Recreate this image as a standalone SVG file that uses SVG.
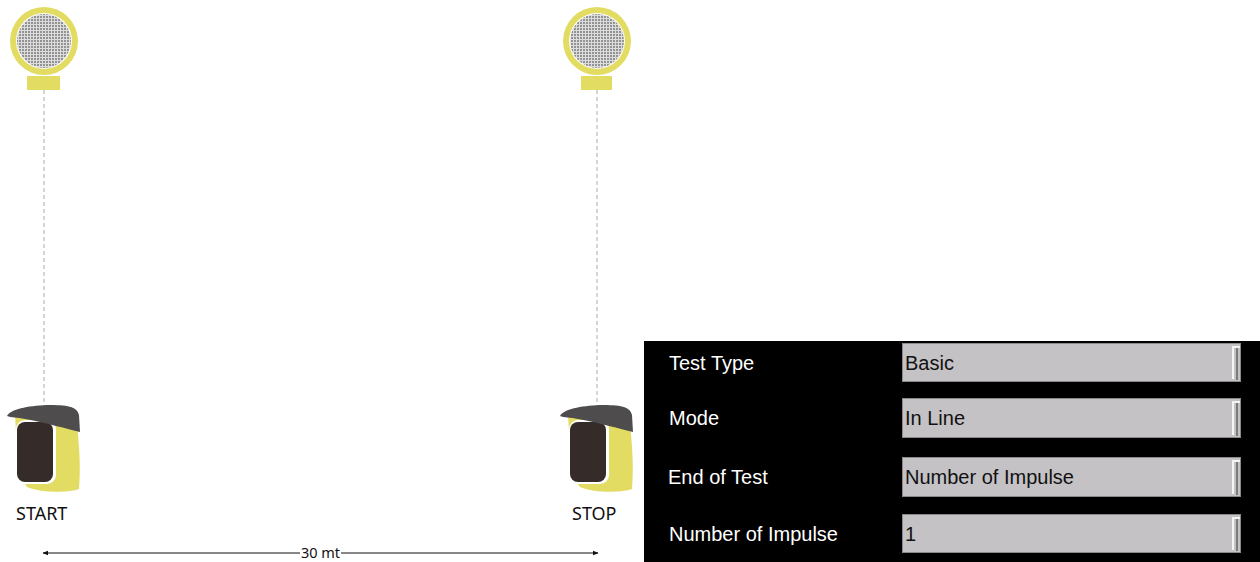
<svg xmlns="http://www.w3.org/2000/svg" width="1260" height="562" viewBox="0 0 1260 562">
  <style>
    .lbl { font-family: "Noto Sans", "Open Sans", sans-serif; font-size: 18px; fill: #111; }
    .dist { font-family: "Noto Sans", "Open Sans", sans-serif; font-size: 14.5px; fill: #111; }
    .plbl { font-family: "Liberation Sans", "DejaVu Sans", sans-serif; font-size: 20px; fill: #fff; }
    .pval { font-family: "Liberation Sans", "DejaVu Sans", sans-serif; font-size: 20px; fill: #111; }
    .beam { stroke: #aaa; stroke-width: 1; stroke-dasharray: 4 3; fill: none; }
    .ring { fill: #e2dd62; }
    .mesh { fill: url(#grid); }
    .field { fill: #c4c2c4; stroke: #8a8a8a; stroke-width: 1; }
    .hl { stroke: #f4f4f4; stroke-width: 2; fill: none; }
    .sh { stroke: #7a7a7a; stroke-width: 2; fill: none; }
  </style>
  <defs>
    <pattern id="grid" width="3" height="3" patternUnits="userSpaceOnUse">
      <rect width="3" height="3" fill="#939393"/>
      <path d="M0 0.5H3M0.5 0V3" stroke="#dcdcdc" stroke-width="1"/>
    </pattern>
    <marker id="ah" viewBox="0 0 10 10" refX="9" refY="5" markerWidth="6" markerHeight="6" orient="auto-start-reverse">
      <path d="M0 1 L10 5 L0 9 Z" fill="#111"/>
    </marker>
    <!-- photocell body, drawn with its left edge at x=0 and cap top at y=0 -->
    <g id="cell">
      <path d="M8 10 C10 40 10 70 20 82 C35 88 60 88 72 84 C74 60 72 40 70 18 Z" fill="#e2dd62"/>
      <rect x="9" y="15" width="40" height="64" rx="9" fill="#ffffff"/>
      <rect x="10" y="17" width="36" height="60" rx="8" fill="#352b28"/>
      <path d="M0 11 C4 4 20 1 40 0 C60 0 70 1 72 10 L73 27 C60 24 40 18 18 14 C10 12 4 13 0 11 Z" fill="#4f4c4e"/>
    </g>
  </defs>

  <!-- light beams and distance marker -->
  <g id="connectors">
    <line class="beam" x1="44" y1="90" x2="44" y2="406"/>
    <line class="beam" x1="597" y1="90" x2="597" y2="406"/>
    <line x1="43" y1="553" x2="300" y2="553" stroke="#111" stroke-width="1" marker-start="url(#ah)"/>
    <line x1="341" y1="553" x2="598" y2="553" stroke="#111" stroke-width="1" marker-end="url(#ah)"/>
    <text class="dist" x="320.5" y="558" text-anchor="middle">30 mt</text>
  </g>

  <!-- reflectors -->
  <g id="reflector-start">
    <rect class="ring" x="27" y="76" width="33" height="14"/>
    <circle class="ring" cx="44" cy="41" r="34"/>
    <circle cx="44" cy="41" r="28" fill="#ffffff"/>
    <circle class="mesh" cx="44" cy="41" r="27"/>
  </g>
  <g id="reflector-stop">
    <rect class="ring" x="581" y="76" width="31" height="14"/>
    <circle class="ring" cx="597" cy="41" r="34"/>
    <circle cx="597" cy="41" r="28" fill="#ffffff"/>
    <circle class="mesh" cx="597" cy="41" r="27"/>
  </g>

  <!-- photocells -->
  <g id="cell-start">
    <use href="#cell" x="7" y="405"/>
    <text class="lbl" x="16" y="520">START</text>
  </g>
  <g id="cell-stop">
    <use href="#cell" x="560" y="405"/>
    <text class="lbl" x="572" y="520">STOP</text>
  </g>

  <!-- settings panel -->
  <g id="panel">
    <rect x="644" y="341" width="616" height="221" fill="#000"/>
    <text class="plbl" x="669" y="370">Test Type</text>
    <text class="plbl" x="669" y="425">Mode</text>
    <text class="plbl" x="668" y="484">End of Test</text>
    <text class="plbl" x="669" y="541">Number of Impulse</text>

    <g id="field-type">
      <rect class="field" x="902.5" y="343.5" width="338" height="38"/>
      <path class="sh" d="M1237 346 V380"/>
      <path class="hl" d="M1233 379 V347 H1240"/>
      <text class="pval" x="905" y="370">Basic</text>
    </g>
    <g id="field-mode">
      <rect class="field" x="902.5" y="398.5" width="338" height="39"/>
      <path class="sh" d="M1237 401 V436"/>
      <path class="hl" d="M1233 435 V402 H1240"/>
      <text class="pval" x="905" y="425">In Line</text>
    </g>
    <g id="field-end">
      <rect class="field" x="902.5" y="457.5" width="338" height="39"/>
      <path class="sh" d="M1237 460 V495"/>
      <path class="hl" d="M1233 494 V461 H1240"/>
      <text class="pval" x="905" y="484">Number of Impulse</text>
    </g>
    <g id="field-count">
      <rect class="field" x="902.5" y="514.5" width="338" height="38"/>
      <path class="sh" d="M1237 517 V551"/>
      <path class="hl" d="M1233 550 V518 H1240"/>
      <text class="pval" x="905" y="541">1</text>
    </g>
  </g>
</svg>
